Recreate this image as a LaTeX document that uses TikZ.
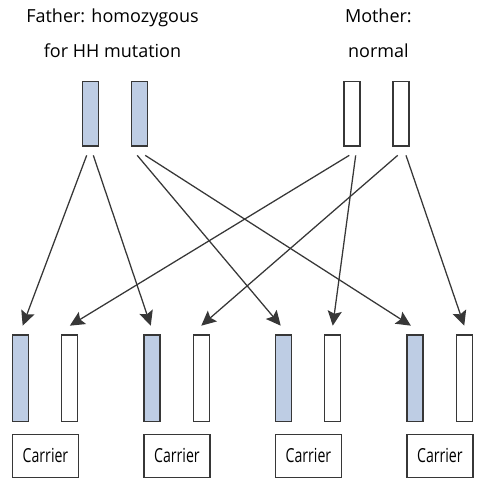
\documentclass[tikz,border=0pt]{standalone}
\usepackage{fontspec}
\setmainfont{Open Sans}
\newfontfamily\carrierfont[FakeStretch=0.73]{Open Sans}
\usepackage{xcolor}
\usepackage{tikz}
\usetikzlibrary{arrows.meta,positioning}
\definecolor{hhblue}{RGB}{190,205,228}
\definecolor{linegray}{RGB}{55,55,55}

\begin{document}
\begin{tikzpicture}[
  x=0.75pt, y=-0.75pt,
  line width=0.95pt,
  every node/.append style={
    inner sep=0pt,
    outer sep=0pt,
    font=\fontsize{13.5}{26.25}\selectfont
  },
  chromo/.style={draw=linegray, minimum width=12pt},
  parent chromo/.style={chromo, minimum height=48.5pt},
  child chromo/.style={chromo, minimum height=65pt},
  mutant/.style={fill=hhblue},
  normal/.style={fill=white},
  carrier box/.style={draw=linegray, minimum width=49.5pt, minimum height=32.5pt,
    font=\carrierfont\fontsize{14.5}{16}\selectfont},
  head text/.style={align=center, anchor=base},
  inherit/.style={draw=linegray, -{Stealth[length=11pt,width=10.5pt,inset=2pt]}}
]
\useasboundingbox (0,0) rectangle (479,480);

\node[head text] (fathertxt) at (112.5,57.3) {Father: homozygous\\for HH mutation};
\node[head text] (mothertxt) at (378.4,57.3) {Mother:\\normal};

% parents
\node[parent chromo, mutant] (f1) at (90.7,113.7) {};
\node[parent chromo, mutant, right=24.75pt of f1] (f2) {};
\node[parent chromo, normal] (m1) at (352,113.7) {};
\node[parent chromo, normal, right=24.75pt of m1] (m2) {};

% children
\node[child chromo, mutant] (c1a) at (20.5,378.3) {};
\node[child chromo, normal, right=25pt of c1a] (c1b) {};
\node[child chromo, mutant, right=49.6pt of c1b] (c2a) {};
\node[child chromo, normal, right=25pt of c2a] (c2b) {};
\node[child chromo, mutant, right=49.6pt of c2b] (c3a) {};
\node[child chromo, normal, right=25pt of c3a] (c3b) {};
\node[child chromo, mutant, right=49.6pt of c3b] (c4a) {};
\node[child chromo, normal, right=25pt of c4a] (c4b) {};

\node[carrier box, below right=9.5pt and 0pt of c1a.south west] (carrier1) {Carrier};
\node[carrier box, below right=9.5pt and 0pt of c2a.south west] (carrier2) {Carrier};
\node[carrier box, below right=9.5pt and 0pt of c3a.south west] (carrier3) {Carrier};
\node[carrier box, below right=9.5pt and 0pt of c4a.south west] (carrier4) {Carrier};

% father's chromosomes
\draw[inherit] ([shift={(-4,9.3)}]f1.south) -- ([shift={(2.2,-9.3)}]c1a.north);
\draw[inherit] ([shift={(2.6,9.3)}]f1.south) -- ([shift={(-1.2,-9.3)}]c2a.north);
\draw[inherit] ([shift={(-2.5,9.3)}]f2.south) -- ([shift={(-2.7,-9.3)}]c3a.north);
\draw[inherit] ([shift={(5.5,9.3)}]f2.south) -- ([shift={(-4,-9.3)}]c4a.north);
% mother's chromosomes
\draw[inherit] ([shift={(-2.7,9.3)}]m1.south) -- ([shift={(0,-9.3)}]c1b.north);
\draw[inherit] ([shift={(3.7,9.3)}]m1.south) -- ([shift={(0,-9.3)}]c3b.north);
\draw[inherit] ([shift={(-3.3,9.3)}]m2.south) -- ([shift={(0,-9.3)}]c2b.north);
\draw[inherit] ([shift={(5,9.3)}]m2.south) -- ([shift={(0,-9.3)}]c4b.north);
\end{tikzpicture}
\end{document}
